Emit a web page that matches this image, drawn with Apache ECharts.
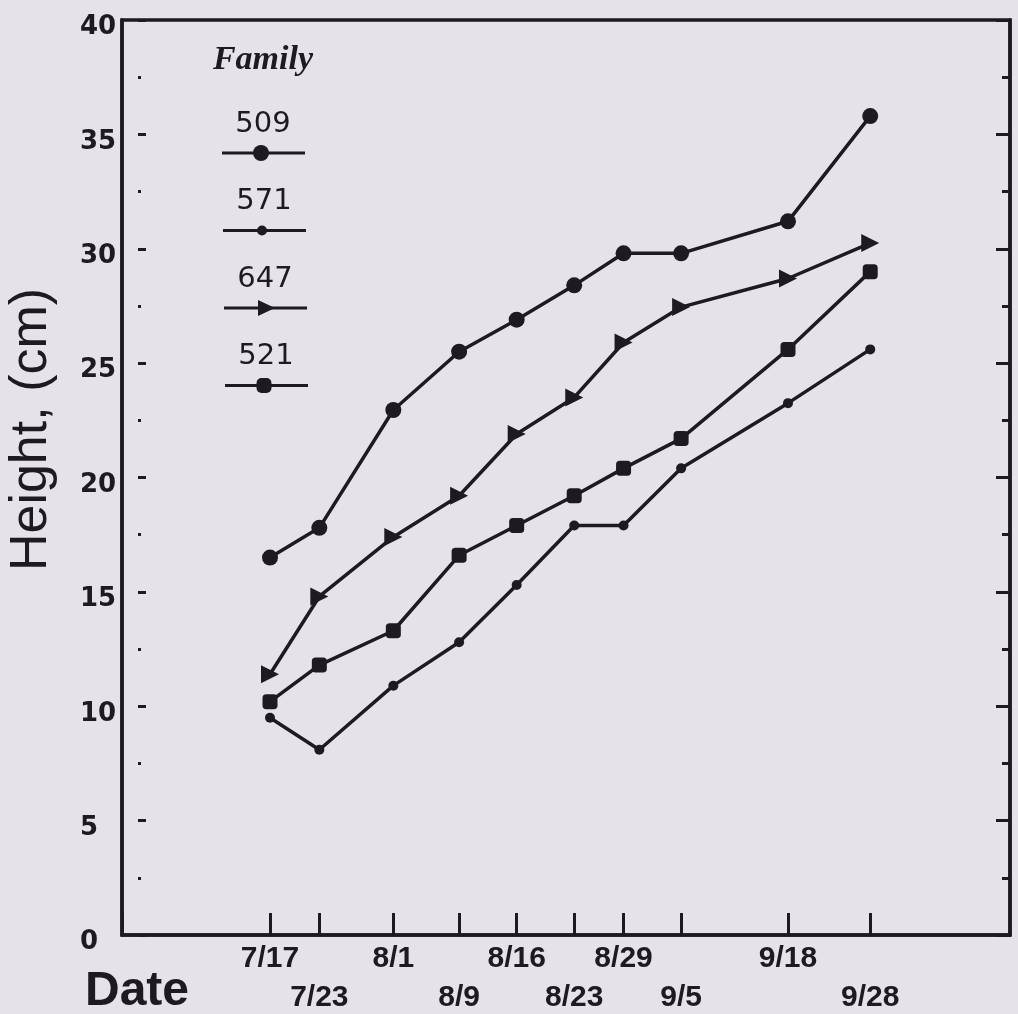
<!DOCTYPE html>
<html>
<head>
<meta charset="utf-8">
<script src="https://cdn.jsdelivr.net/npm/echarts@6/dist/echarts.min.js"></script>
<style>
html,body{margin:0;padding:0;background:#e5e3e8;}
#chart{width:1018px;height:1014px;}
</style>
</head>
<body>
<div id="chart"></div>
<script>
// ---- data ----
const dates = ['7/17','7/23','8/1','8/9','8/16','8/23','8/29','9/5','9/18','9/28'];
const families = ['509','571','647','521'];
const height509 = [16.5, 17.8, 22.95, 25.5, 26.9, 28.4, 29.8, 29.8, 31.2, 35.8];
const height571 = [9.5, 8.1, 10.9, 12.8, 15.3, 17.9, 17.9, 20.4, 23.25, 25.6];
const height647 = [11.4, 14.8, 17.4, 19.2, 21.9, 23.5, 25.9, 27.45, 28.7, 30.25];
const height521 = [10.2, 11.8, 13.3, 16.6, 17.9, 19.2, 20.4, 21.7, 25.6, 29.0];
const yTickLabels = ['0','5','10','15','20','25','30','35','40'];

// ---- helpers ----
const ink = '#1d1b1f';
// day of year (non-leap reference year) for each date label
function dayOfYear(s) {
  const p = s.split('/').map(Number);
  return Math.round((Date.UTC(2001, p[0]-1, p[1]) - Date.UTC(2001, 0, 1)) / 864e5) + 1;
}
const days = dates.map(dayOfYear);
const heights = {'509': height509, '571': height571, '647': height647, '521': height521};

const markerStyle = {
  '509': {symbol: 'circle', symbolSize: 16},
  '571': {symbol: 'circle', symbolSize: 10},
  '647': {symbol: 'triangle', symbolSize: 18, symbolRotate: -90},
  '521': {symbol: 'roundRect', symbolSize: 15}
};

const series = families.map(f => Object.assign({
  name: f,
  type: 'line',
  data: days.map((d, i) => [d, heights[f][i]]),
  lineStyle: {color: ink, width: 3.5},
  itemStyle: {color: ink},
  showSymbol: true,
  z: 5
}, markerStyle[f]));

// ---- legend drawn as graphic ----
const lgX = 263, lgTextTop = 124, lgStep = 77.5, lgDrop = 29;
const graphic = [{
  type: 'text', x: 263, y: 60,
  style: {text: 'Family', fill: ink, fontFamily: '"Liberation Serif"', fontStyle: 'italic', fontWeight: 'bold', fontSize: 34,
          align: 'center', verticalAlign: 'middle', textAlign: 'center', textVerticalAlign: 'middle'}
}];
families.forEach((f, i) => {
  const ty = lgTextTop + i * lgStep;
  const ly = ty + lgDrop;
  const cx = lgX + i;
  graphic.push({type: 'text', x: cx, y: ty,
    style: {text: f, fill: ink, fontFamily: '"DejaVu Sans"', fontSize: 29,
            align: 'center', verticalAlign: 'middle', textAlign: 'center', textVerticalAlign: 'middle'}});
  graphic.push({type: 'line', shape: {x1: cx - 41, y1: ly, x2: cx + 42, y2: ly}, style: {stroke: ink, lineWidth: 3}});
  const ms = markerStyle[f];
  if (ms.symbol === 'circle') {
    graphic.push({type: 'circle', shape: {cx: cx - 2, cy: ly, r: ms.symbolSize / 2}, style: {fill: ink}});
  } else if (ms.symbol === 'triangle') {
    graphic.push({type: 'polygon', shape: {points: [[cx - 7, ly - 8], [cx + 10, ly], [cx - 7, ly + 8]]}, style: {fill: ink}});
  } else {
    graphic.push({type: 'rect', shape: {x: cx - 2 - 7.5, y: ly - 7.5, width: 15, height: 15, r: 5}, style: {fill: ink}});
  }
});

const xMin = days[0] - 18, xMax = days[0] + 90;
// the axis start is listed first so that every date gets its tick and label
const xTickValues = [xMin].concat(days);

const chart = echarts.init(document.getElementById('chart'), null, {renderer: 'canvas'});
chart.setOption({
  backgroundColor: '#e5e3e8',
  animation: false,
  grid: {left: 122, right: 8, top: 20, bottom: 79, containLabel: false, outerBoundsMode: 'none',
         show: true, borderColor: ink, borderWidth: 3.5, backgroundColor: 'transparent'},
  xAxis: [{
    type: 'value', min: xMin, max: xMax, position: 'bottom',
    axisLine: {show: true, onZero: false, lineStyle: {color: ink, width: 3.5}},
    axisTick: {show: true, inside: true, length: 22, lineStyle: {color: ink, width: 3}, customValues: xTickValues},
    axisLabel: {
      show: true, customValues: xTickValues, hideOverlap: false, showMinLabel: true, showMaxLabel: true,
      formatter: function (v) {
        const i = days.indexOf(v);
        if (i < 0) return '';
        return i % 2 ? '\n' + dates[i] : dates[i];
      },
      fontFamily: '"Liberation Sans"', fontWeight: 'bold', fontSize: 30, color: ink,
      lineHeight: 39, verticalAlign: 'top', margin: 4
    },
    splitLine: {show: false},
    name: '\nDate', nameLocation: 'start', nameGap: 37, nameMoveOverlap: false,
    nameTextStyle: {fontFamily: '"Liberation Sans"', fontWeight: 'bold', fontSize: 48, color: ink,
                    align: 'left', verticalAlign: 'middle', lineHeight: 113}
  }],
  yAxis: [{
    type: 'value', min: 0, max: 40, interval: 5, position: 'left',
    axisLine: {show: true, onZero: false, lineStyle: {color: ink, width: 3.5}},
    axisTick: {show: false},
    splitLine: {show: false},
    axisLabel: {
      show: true, margin: 42, align: 'left', verticalAlign: 'top', lineHeight: 15,
      formatter: function (v) { return yTickLabels[Math.round(v / 5)]; },
      fontFamily: '"DejaVu Sans"', fontWeight: 'bold', fontSize: 26, color: ink
    },
    name: 'Height, (cm)', nameLocation: 'middle', nameGap: 90, nameMoveOverlap: false,
    nameTextStyle: {fontFamily: '"Liberation Sans"', fontSize: 52, color: ink, verticalAlign: 'middle', padding: [0, 0, 0, 96]}
  }, {
    type: 'value', min: 0, max: 40, interval: 5, position: 'right',
    axisLine: {show: true, onZero: false, lineStyle: {color: ink, width: 3.5}},
    axisTick: {show: true, inside: true, length: 14, lineStyle: {color: ink, width: 3}},
    minorTick: {show: true, splitNumber: 2, length: 8, lineStyle: {color: ink, width: 3}},
    axisLabel: {show: false},
    splitLine: {show: false}, minorSplitLine: {show: false}
  }, {
    type: 'value', min: 0, max: 40, interval: 5, position: 'left', offset: -16,
    axisLine: {show: false, onZero: false},
    axisTick: {show: true, inside: true, length: 8, lineStyle: {color: ink, width: 3}},
    minorTick: {show: true, splitNumber: 2, length: 3, lineStyle: {color: ink, width: 3}},
    axisLabel: {show: false},
    splitLine: {show: false}, minorSplitLine: {show: false}
  }],
  series: series,
  graphic: graphic
});
</script>
</body>
</html>
